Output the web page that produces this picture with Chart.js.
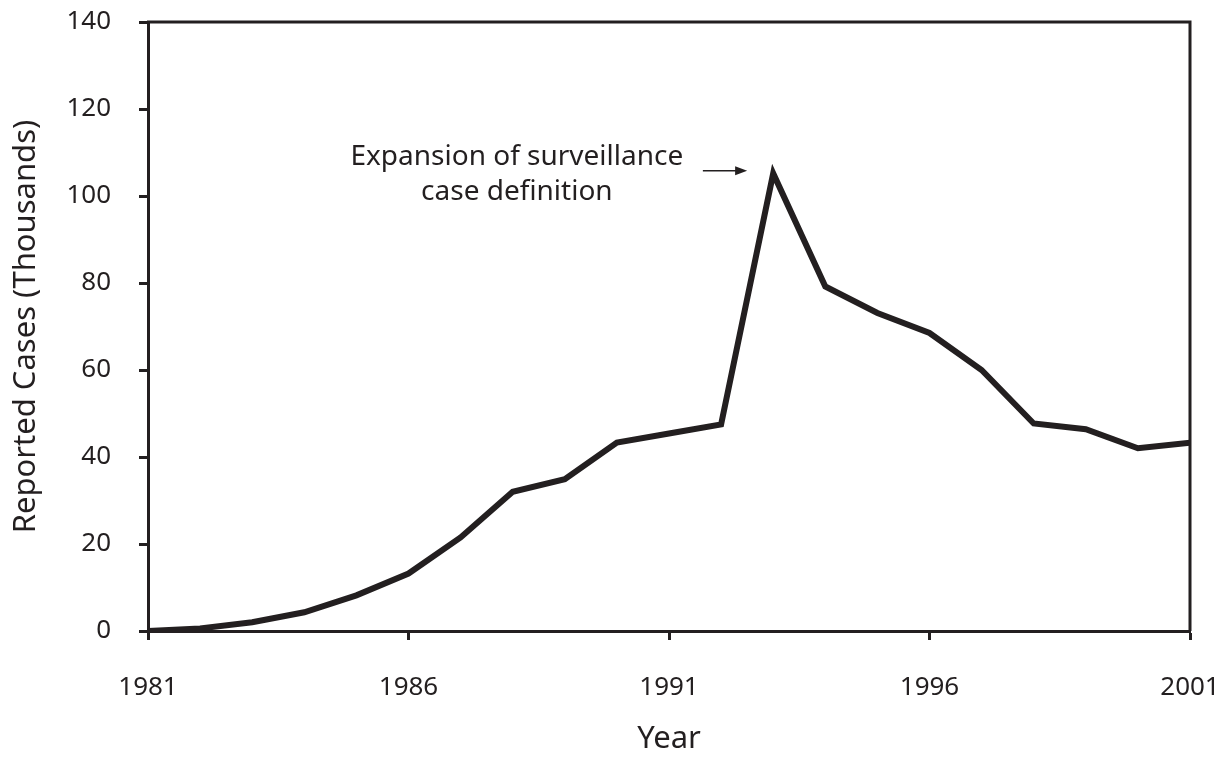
<!DOCTYPE html>
<html>
<head>
<meta charset="utf-8">
<script src="https://cdn.jsdelivr.net/npm/chart.js@4"></script>
<style>
  html, body { margin: 0; padding: 0; background: #fff; }
  #wrap { width: 1226px; height: 760px; }
</style>
</head>
<body>
<div id="wrap"><canvas id="chart"></canvas></div>
<script>
// Reported cases by year (thousands)
const years = [1981, 1982, 1983, 1984, 1985, 1986, 1987, 1988, 1989, 1990,
               1991, 1992, 1993, 1994, 1995, 1996, 1997, 1998, 1999, 2000, 2001];
const cases = [0, 0.6, 2.0, 4.3, 8.2, 13.2, 21.5, 32.0, 34.9, 43.3,
               45.4, 47.5, 105.2, 79.2, 73.1, 68.5, 60.0, 47.7, 46.4, 42.0, 43.3];
const xTicks = [1981, 1986, 1991, 1996, 2001];
const yTicks = [0, 20, 40, 60, 80, 100, 120, 140];
const noteLines = ['Expansion of surveillance', 'case definition'];

const ink = '#231f20';
const fontFamily = '"Noto Sans", "Liberation Sans", Arial, sans-serif';
const tickSize = 26;
const titleSize = 31;
const noteSize = 28;

// Draws the top/right frame and the annotation with its arrow
const extras = {
    id: 'extras',
    afterDraw(chart) {
        const ctx = chart.ctx;
        const a = chart.chartArea;
        const xs = chart.scales.x;
        const ys = chart.scales.y;

        ctx.save();
        ctx.strokeStyle = ink;
        ctx.lineWidth = 3;
        ctx.beginPath();
        ctx.moveTo(a.left - 1, a.top);
        ctx.lineTo(a.right, a.top);
        ctx.lineTo(a.right, a.bottom);
        ctx.stroke();

        // annotation text
        ctx.fillStyle = ink;
        ctx.font = noteSize + 'px ' + fontFamily;
        ctx.textAlign = 'center';
        ctx.textBaseline = 'middle';
        const tx = xs.getPixelForValue(1988.08);
        ctx.fillText(noteLines[0], tx, ys.getPixelForValue(108.9));
        ctx.fillText(noteLines[1], tx, ys.getPixelForValue(100.8));

        // arrow pointing at the 1993 peak
        const ay = ys.getPixelForValue(105.8);
        const x0 = xs.getPixelForValue(1991.65);
        const x1 = xs.getPixelForValue(1992.5);
        ctx.lineWidth = 1.5;
        ctx.beginPath();
        ctx.moveTo(x0, ay);
        ctx.lineTo(x1 - 8, ay);
        ctx.stroke();
        ctx.beginPath();
        ctx.moveTo(x1, ay);
        ctx.lineTo(x1 - 12, ay - 4.5);
        ctx.lineTo(x1 - 12, ay + 4.5);
        ctx.closePath();
        ctx.fill();
        ctx.restore();
    }
};

new Chart(document.getElementById('chart'), {
    type: 'line',
    data: {
        labels: years,
        datasets: [{
            data: years.map((y, i) => ({ x: y, y: cases[i] })),
            borderColor: ink,
            borderWidth: 6,
            borderJoinStyle: 'miter',
            borderCapStyle: 'butt',
            pointRadius: 0,
            tension: 0,
            fill: false
        }]
    },
    options: {
        responsive: true,
        maintainAspectRatio: false,
        animation: false,
        events: [],
        layout: { padding: { left: 0, right: 36, top: 22, bottom: 0 } },
        plugins: {
            legend: { display: false },
            tooltip: { enabled: false }
        },
        scales: {
            x: {
                type: 'linear',
                min: 1981,
                max: 2001,
                afterBuildTicks: (s) => { s.ticks = xTicks.map(v => ({ value: v })); },
                afterFit: (s) => {
                    s.height = 760 - 631;
                    s.paddingLeft = 0;
                    s.paddingRight = 0;
                },
                grid: {
                    drawOnChartArea: false,
                    drawTicks: true,
                    tickLength: 9,
                    tickWidth: 3,
                    tickColor: ink
                },
                border: { display: true, color: ink, width: 3 },
                ticks: {
                    color: ink,
                    font: { family: fontFamily, size: tickSize },
                    padding: 32,
                    maxRotation: 0,
                    callback: (v) => String(v)
                },
                title: {
                    display: true,
                    text: 'Year',
                    color: ink,
                    font: { family: fontFamily, size: titleSize },
                    padding: { top: 0, bottom: 2 }
                }
            },
            y: {
                min: 0,
                max: 140,
                afterBuildTicks: (s) => { s.ticks = yTicks.map(v => ({ value: v })); },
                afterFit: (s) => {
                    s.width = 148;
                    s.paddingTop = 0;
                    s.paddingBottom = 0;
                },
                grid: {
                    drawOnChartArea: false,
                    drawTicks: true,
                    tickLength: 9,
                    tickWidth: 3,
                    tickColor: ink
                },
                border: { display: true, color: ink, width: 3 },
                ticks: {
                    color: ink,
                    font: { family: fontFamily, size: tickSize },
                    padding: 28
                },
                title: {
                    display: true,
                    text: 'Reported Cases (Thousands)',
                    color: ink,
                    font: { family: fontFamily, size: titleSize },
                    padding: { top: 8, bottom: 0 }
                }
            }
        }
    },
    plugins: [extras]
});
</script>
</body>
</html>
